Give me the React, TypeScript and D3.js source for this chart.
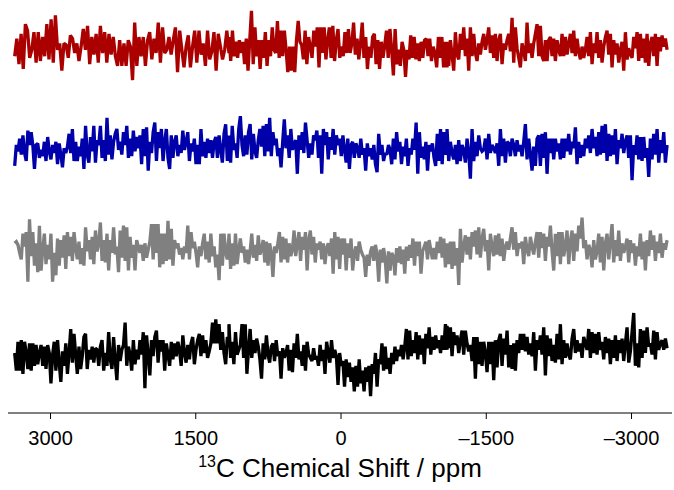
import React from "react";
import * as d3 from "d3";

// ppm boundaries of the three consecutive read-out segments of every trace
const SEGMENT_PPM = [3370, 1157, -1095, -3367];

const TICKS = [3000, 1500, 0, -1500, -3000];
const TICK_LABELS = ["3000", "1500", "0", "\u20131500", "\u20133000"];

const TRACE_NAMES = ["red", "blue", "gray", "black"];
const TRACE_COLORS = ["#aa0000", "#0000aa", "#808080", "#000000"];

// intensities (a.u.)
const RED_1 = [-35,20,-60,35,-75,65,45,-40,-15,40,-55,40,-50,25,-35,65,-45,80,-55,93,-15,5,-80,5,0,-40,30,20,-25,5,-50,-5,50,-15,60,-60,25,-30,35,-55,60,-25,40,-55,35,-30,25,-35,-65,15,-65,5,-65,15,-5,-110,70,-65,25,-35,25,-65,15,40,-45,20,-25,70,-55,55,-25,-15,25,-30,15,55,-85,45,-15,-70,-5,30,-70,-5,45,-55,45,-30,5,-65,45,-45,-20,40,-80,35,-5,-45,-15,45,-25];
const RED_2 = [25,-50,45,-35,10,-40,15,-25,10,-60,20,-80,15,107,-60,55,-35,15,-75,15,-40,40,-65,15,-35,55,-15,-25,75,-40,45,-35,45,-15,-85,-5,-80,-5,-85,15,75,10,0,-45,45,-60,25,-5,-40,45,-5,55,-70,55,-25,55,-45,15,55,-40,60,-50,15,50,-40,-5,-35,40,-25,50,-25,5,70,-30,20,-45,5,70,-40,25,-75,-5,-40,25,35,-60,15,-75,10,-40,0,45,-40,50,-15,-95,50,-60,-15,-65,10,-15,-100,-15,-45,30,-40,25,-45,5,-50,10,-40,15,20,-35,20,-50,-5,-25,-70,25,-40,25,-70,10,-70];
const RED_3 = [10,-65,15,-30,-80,40,-30,-45,35,-15,55,-35,20,-80,55,-35,35,-25,-50,5,-30,10,35,-15,15,55,-25,30,-40,35,-50,15,35,-60,5,-15,15,35,-20,85,-55,55,-10,-40,-70,5,-20,-50,70,-25,5,-40,5,35,65,-35,60,-35,-50,15,-50,15,25,-35,20,-50,15,-15,-35,35,-35,25,-30,5,35,-25,45,-35,20,-20,-45,-5,-40,-15,25,-35,40,-60,5,-25,40,-40,15,-55,-5,25,45,-30,35,-70,15,-30,5,-55,-15,10,-80,40,-45,-10,-30,-40,25,-10,40,-50,35,-40,20,-55,35,-65,5,25,-35,35,-65,25,-20,30,-5,20,-15];

const BLUE_1 = [-65,0,-20,20,-30,30,-25,-50,45,0,40,0,-75,0,5,-40,-15,-35,10,-50,25,-20,-45,0,-25,10,-60,5,-30,-70,-10,-25,-5,35,-25,50,-50,10,-50,-5,-35,20,-75,60,-30,-55,25,-20,60,-55,15,0,60,-40,15,-50,85,-30,30,-45,10,35,50,-15,10,-30,40,0,60,-40,20,-35,45,-20,25,-10,30,-60,50,-35,55,-80,10,-25,40,70,-50,40,-10,50,-50,10,50,-40,-75,30,-40,10,30,-35,0,-25,45,-15,10,40,-50,5,-20,20,-60,0,-60,50,-35,10,-40,20,-25,15,-40,10,25,-40,30,-15,-55,35,65,-50,30];
const BLUE_2 = [-5,-55,60,-15,5,-40,50,90,0,-35,30,-30,40,65,-45,35,-20,-40,15,50,-5,60,-35,65,-20,85,-35,40,0,20,-35,-10,-70,10,80,-10,30,-40,50,-15,5,15,-90,30,-15,40,-25,70,15,-40,5,-30,30,15,45,-40,30,-90,50,0,40,-45,25,-15,50,-30,30,0,20,-35,30,-15,-55,20,-75,0,10,-40,5,-10,-40,20,-30,-10,-80,5,-35,-10,-45,0,-60,-85,35,-30,0,-50,-25,-30,0,-15,-60,20,-45,40,-20,10,-60,-5,-35,20,-65,-10,-30,20,-15,70,-90,40,-40,-5,-45,10,-80,0,-20,5,-40,-65,35,-50,50,-60,40,-30,0];
const BLUE_3 = [50,-50,10,-25,-45,0,-60,15,-50,0,-15,-55,20,-25,-105,50,-50,10,-35,30,-10,-20,-15,20,-45,35,-25,0,-10,-25,5,-65,50,-35,20,-55,10,5,-35,20,0,-35,15,-20,0,-35,10,65,-45,20,-30,-80,-5,-65,20,30,-65,35,-40,40,-90,20,-25,20,-45,20,-20,5,-45,20,-40,20,-20,35,-30,10,-10,55,-60,10,-40,0,-35,20,-10,30,-25,50,-10,25,-35,40,-30,60,-25,65,-50,35,-35,30,-30,50,-60,15,-10,35,-25,10,30,-40,30,-110,0,-30,30,-45,25,-50,25,-40,-10,-100,20,-45,35,-30,50,-55,15,-25,40,-55,0];

const GRAY_1 = [10,15,5,-20,-40,40,0,45,-110,85,-30,45,-60,10,-80,65,-75,-10,40,-55,5,-40,40,-110,-20,-90,25,-60,20,-35,35,-70,45,-30,30,-45,45,-5,-40,15,-55,-5,-60,60,-15,20,-40,30,-55,50,-15,10,75,-45,20,-50,40,-75,20,-20,60,-25,0,-80,50,-35,65,-45,60,-75,30,-35,5,-75,20,0,-20,5,-45,10,-35,-10,15,70,-40,70,-20,70,-65,40,-55,40,-45,80,-40,55,-60,20,-5,10,-25,-5,-40,0,-20,65,-40,45,-5,15,-20,-65,0,-30,10,40,-40,15,-50,40,-30,0,-65,-25,-105,40,-60,40,-20,-40,35];
const GRAY_2 = [40,-70,10,-60,40,-55,-10,25,-20,0,-50,-10,-55,-15,40,-35,5,-45,35,-25,-10,20,-50,15,-60,10,-20,-95,0,-20,10,45,-50,30,-40,25,-50,10,-30,-10,50,-30,10,45,-45,30,-10,45,-75,20,50,-25,30,-50,10,-10,15,-40,10,-55,-5,10,-30,25,-85,45,-40,30,-70,25,-25,25,-75,10,-35,25,-75,-20,0,-45,15,-10,-25,-35,-95,-25,-60,-15,0,-45,5,-25,-110,-10,-50,-5,-40,-115,-15,-75,-20,-30,-90,-5,-50,0,-55,-10,-85,0,-45,5,-35,25,-60,15,-30,15,-85,-15,0,15,-40,20,-10,-40,-5,-40,15,-20,30,-35,25,-65,0];
const GRAY_3 = [10,-55,15,-70,15,-60,-5,-120,55,-50,0,35,-25,30,-40,45,0,50,-25,60,-35,25,55,-15,20,-75,40,0,-30,35,-25,40,-30,25,-45,0,15,-10,25,60,-10,45,-30,10,-5,15,-55,30,-10,-30,30,0,-25,15,45,-35,45,-5,40,-45,30,0,65,-15,-75,40,-30,45,-55,45,-30,0,50,-55,15,50,-45,40,-15,65,25,90,-5,20,-40,5,-10,-65,20,-40,-15,40,-50,30,-75,10,40,-40,15,70,-50,20,-30,50,-45,10,-20,0,25,-50,20,-20,10,-60,0,-30,40,-40,15,-75,20,-30,50,-10,35,-45,15,-20,40,-35,10,-10,20];

const BLACK_1 = [0,-55,35,-55,40,-65,35,0,-50,30,-55,30,-40,25,-35,0,25,-40,20,-50,25,0,-95,-5,35,-55,40,-30,-90,5,-40,30,-65,0,75,-30,60,-5,-65,20,-50,-10,50,60,-50,10,-20,20,-30,15,10,-40,20,40,-55,0,-40,65,-20,-50,50,-25,-85,25,-25,10,25,95,-40,20,-5,-55,40,-35,10,-20,40,-5,65,-110,55,-5,-70,40,-10,50,70,-30,40,5,40,-55,30,-5,-40,35,-20,30,-10,35,10,-40,55,0,-30,25,-20,30,50,-35,10,40,60,-10,55,0,40,-15,5,30,95,30,105,30,90,10,65,0,-35,50,40];
const BLACK_2 = [90,-15,35,-35,65,-5,10,25,90,-15,90,-65,10,75,-15,40,0,45,20,-20,-80,30,-20,55,-5,-30,20,30,-25,40,-10,5,-80,15,-15,0,25,-55,10,-60,30,-15,60,-20,5,-40,25,-55,35,-5,-15,-25,15,-20,-10,-40,25,-25,10,-65,35,0,-30,40,-15,10,-10,-100,0,-40,-25,-105,-20,-75,-30,-90,-45,-120,-40,-105,-20,-95,-55,-120,-45,-90,-40,-135,-35,-65,0,-105,-20,-35,30,-55,20,-50,-15,-65,0,-35,20,-25,10,-10,25,-20,20,75,-20,70,-10,40,0,65,-20,55,-5,45,-35,60,15,80,-5,50,10,55,15,40,0,55,10,90,10];
const BLACK_3 = [85,15,80,-10,65,25,55,0,40,70,-5,70,30,5,25,-25,50,-80,50,-35,35,-40,35,0,-60,35,-35,35,-85,40,-45,40,60,-40,45,-5,70,-45,25,-50,30,-55,40,0,60,10,60,5,50,-5,30,-10,65,-55,40,10,55,-5,80,-70,55,-10,45,-25,25,-30,60,-20,90,-35,40,-15,30,-5,-20,45,75,0,40,5,30,-15,50,30,10,75,-15,65,0,60,-5,65,10,35,-20,50,0,45,-35,40,-15,55,-25,40,0,45,-25,30,80,-30,5,65,125,-40,30,-45,75,-15,70,0,80,20,30,-5,70,-20,65,10,30,40,10,45,15];

const TRACE_SEGMENTS = [
  [RED_1, RED_2, RED_3],
  [BLUE_1, BLUE_2, BLUE_3],
  [GRAY_1, GRAY_2, GRAY_3],
  [BLACK_1, BLACK_2, BLACK_3],
];

const W = 674;
const H = 490;
const BASELINES = [45, 145, 246.5, 353];
const AXIS_Y = 413;

export default function App() {
  const x = d3.scaleLinear().domain([3439, -3418]).range([8, 672]);
  const amp = d3.scaleLinear().domain([0, 100]).range([0, -32]);

  const traces = TRACE_SEGMENTS.map((segs, ti) => {
    const pts: { ppm: number; v: number }[] = [];
    segs.forEach((vals, si) => {
      const a = SEGMENT_PPM[si];
      const b = SEGMENT_PPM[si + 1];
      const n = vals.length;
      vals.forEach((v, j) => {
        pts.push({ ppm: a + ((b - a) * j) / (n - 1), v });
      });
    });
    const line = d3
      .line<{ ppm: number; v: number }>()
      .x((d) => x(d.ppm))
      .y((d) => BASELINES[ti] + amp(d.v));
    return line(pts) || "";
  });

  const font = "'Liberation Sans', Arial, Helvetica, sans-serif";

  return (
    <svg
      width={W}
      height={H}
      style={{ position: "absolute", left: 0, top: 0, background: "#fff" }}
    >
      {traces.map((d, i) => (
        <path
          key={TRACE_NAMES[i]}
          d={d}
          fill="none"
          stroke={TRACE_COLORS[i]}
          strokeWidth={3.3}
          strokeLinejoin="miter"
          strokeMiterlimit={2}
        />
      ))}
      <line x1={8} x2={672} y1={AXIS_Y} y2={AXIS_Y} stroke="#000" strokeWidth={1} />
      {TICKS.map((t, i) => (
        <g key={t} transform={`translate(${x(t)},${AXIS_Y})`}>
          <line y1={0} y2={6} stroke="#000" strokeWidth={1} />
          <text
            y={32}
            textAnchor="middle"
            fontFamily={font}
            fontSize={20}
            fill="#000"
          >
            {TICK_LABELS[i]}
          </text>
        </g>
      ))}
      <text
        x={340}
        y={477}
        textAnchor="middle"
        fontFamily={font}
        fontSize={26}
        fill="#000"
      >
        <tspan fontSize={16} dy={-10}>13</tspan>
        <tspan dy={10}>C Chemical Shift / ppm</tspan>
      </text>
    </svg>
  );
}
